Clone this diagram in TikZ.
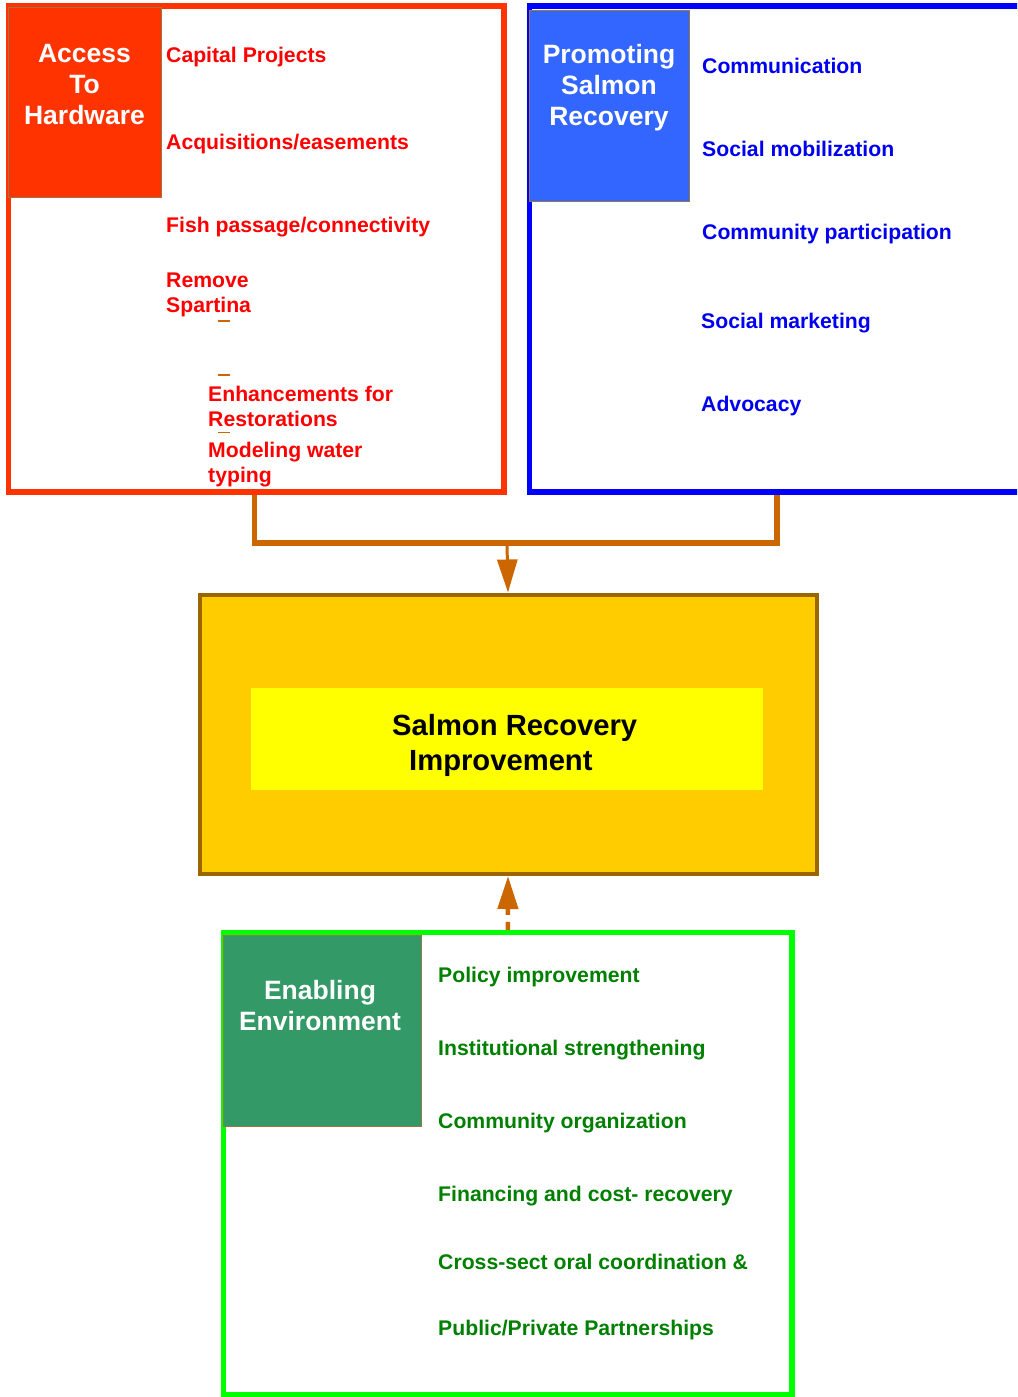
\documentclass[tikz,border=0pt]{standalone}
\usepackage{fontspec}
\setmainfont{Liberation Sans}
\usetikzlibrary{arrows.meta}
\definecolor{redframe}{HTML}{FF3300}
\definecolor{redtxt}{HTML}{FF0000}
\definecolor{blueframe}{HTML}{0000FF}
\definecolor{bluetitle}{HTML}{3366FF}
\definecolor{bluetxt}{HTML}{0000F0}
\definecolor{conncol}{HTML}{CC6600}
\definecolor{goalfill}{HTML}{FFCC00}
\definecolor{goalline}{HTML}{996600}
\definecolor{goalinner}{HTML}{FFFF00}
\definecolor{greenframe}{HTML}{00FF00}
\definecolor{greentitle}{HTML}{339966}
\definecolor{greentxt}{HTML}{008000}
\definecolor{titleedge}{HTML}{997744}
\begin{document}
\begin{tikzpicture}[x=1pt,y=-1pt,
  frame/.style={draw, line width=5.5pt, inner sep=0, minimum width=#1},
  titlebox/.style={draw=titleedge, line width=0.8pt, inner sep=0},
  titletext/.style={anchor=north, inner sep=0, align=center, text=white,
     font=\fontsize{26.5}{31}\selectfont\bfseries},
  item/.style={anchor=base west, inner sep=0, font=\fontsize{21.2}{25}\selectfont\bfseries},
  itemml/.style={anchor=north west, inner sep=0, align=left, font=\fontsize{21.2}{25}\selectfont\bfseries},
  conn/.style={draw=conncol, line width=5.5pt},
  tip/.style={-{Triangle[length=33pt,width=20pt]}}
]
\useasboundingbox (0,0) rectangle (1017,1397);
\clip (0,0) rectangle (1017,1397);

% ---- red block
\node[frame=495.5pt, draw=redframe, minimum height=486pt, fill=white] (redbox) at (256.25,249) {};
\node[titlebox, fill=redframe, minimum width=153pt, minimum height=190pt] (redtitle) at (84.5,102) {};
\node[titletext] (redtitletxt) at (84.5,44) {Access\\To\\Hardware};
\node[item, text=redtxt] (r1) at (166,62.5) {Capital Projects};
\node[item, text=redtxt] (r2) at (166,149.5) {Acquisitions/easements};
\node[item, text=redtxt] (r3) at (166,232.5) {Fish passage/connectivity};
\node[itemml, text=redtxt] (r4) at (166,273) {Remove\\Spartina};
\node[itemml, text=redtxt] (r5) at (208,386) {Enhancements for\\Restorations};
\node[itemml, text=redtxt] (r6) at (208,442) {Modeling water\\typing};
\draw[conncol, line width=1.8pt] (218,321) -- (230,321);
\draw[conncol, line width=1.8pt] (218,375) -- (230,375);
\draw[conncol, line width=1.8pt] (218,432.5) -- (230,432.5);

% ---- blue block
\node[frame=495pt, draw=blueframe, minimum height=486pt, fill=white] (bluebox) at (777,249) {};
\node[titlebox, fill=bluetitle, minimum width=160pt, minimum height=191pt] (bluetitlebox) at (609,105.5) {};
\node[titletext] (bluetitletxt) at (609,44) {Promoting\\Salmon\\Recovery};
\node[item, text=bluetxt] (b1) at (702,73.5) {Communication};
\node[item, text=bluetxt] (b2) at (702,156.5) {Social mobilization};
\node[item, text=bluetxt] (b3) at (702,239.5) {Community participation};
\node[item, text=bluetxt] (b4) at (701,328.5) {Social marketing};
\node[item, text=bluetxt] (b5) at (701,411.5) {Advocacy};

% ---- goal
\node[draw=goalline, line width=4pt, fill=goalfill, inner sep=0,
      minimum width=617pt, minimum height=279.5pt] (goal) at (508,734.25) {};
\node[fill=goalinner, inner sep=0, minimum width=512pt, minimum height=102pt] (goalin) at (507,739) {};
\node[anchor=north west, inner sep=0, align=left,
      font=\fontsize{29.2}{35}\selectfont\bfseries] (goaltxt) at (392,714)
      {Salmon Recovery\\\hspace*{17pt}Improvement};

% ---- green block
\node[frame=568.3pt, draw=greenframe, minimum height=462.5pt, fill=white] (greenbox) at (507.85,1163.75) {};
\node[titlebox, fill=greentitle, minimum width=198pt, minimum height=191pt] (greentitlebox) at (322,1030.5) {};
\node[titletext] (greentitletxt) at (320,980) {Enabling\\Environment};
\node[item, text=greentxt] (g1) at (438,982.5) {Policy improvement};
\node[item, text=greentxt] (g2) at (438,1055.5) {Institutional strengthening};
\node[item, text=greentxt] (g3) at (438,1128.5) {Community organization};
\node[item, text=greentxt] (g4) at (438,1201.5) {Financing and cost- recovery};
\node[item, text=greentxt] (g5) at (438,1269.5) {Cross-sect oral coordination \&};
\node[item, text=greentxt] (g6) at (438,1335.5) {Public/Private Partnerships};

% ---- connectors
\coordinate (junction) at (507,543);
\draw[conn] ([xshift=-2pt]redbox.south) |- (junction);
\draw[conn] (bluebox.south) |- (junction);
\draw[conncol, line width=3pt, tip] (junction) -- (goal.north);
\draw[conncol, line width=4.5pt, dash pattern=on 8pt off 7pt, tip] (greenbox.north) -- (goal.south);
\end{tikzpicture}
\end{document}
